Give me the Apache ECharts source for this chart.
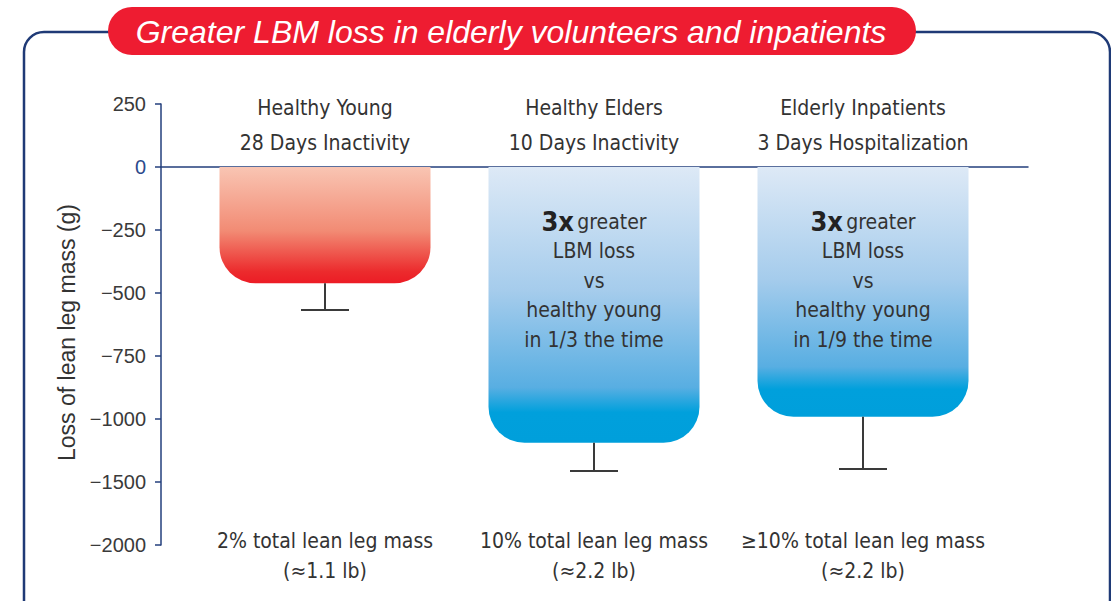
<!DOCTYPE html>
<html>
<head>
<meta charset="utf-8">
<title>Greater LBM loss</title>
<script src="https://cdn.jsdelivr.net/npm/echarts@6/dist/echarts.min.js"></script>
<style>
  html, body { margin: 0; padding: 0; background: #fff; }
  #chart { width: 1111px; height: 601px; }
</style>
</head>
<body>
<div id="chart"></div>
<script>
// data (grams of lean leg mass lost)
var groups = ['Healthy Young', 'Healthy Elders', 'Elderly Inpatients'];
var conditions = ['28 Days Inactivity', '10 Days Inactivity', '3 Days Hospitalization'];
var leanLoss = [-461, -1188, -991];
var errorLow = [-567, -1413, -1397];
var percentNotes = ['2% total lean leg mass', '10% total lean leg mass', '\u226510% total lean leg mass'];
var poundNotes = ['(\u22481.1 lb)', '(\u22482.2 lb)', '(\u22482.2 lb)'];
var timeFractions = [null, '1/3', '1/9'];
var yTicks = [250, 0, -250, -500, -750, -1000, -1500, -2000];
var xPos = [1, 2, 3];

var NAVY = '#233f7c';
var TEXT = '#333333';
var NARROW = "'DejaVu Sans Condensed', 'Liberation Sans Narrow', sans-serif";
var PLAIN = "'Liberation Sans', 'Roboto', sans-serif";

// the y axis is broken: steps of 250 down to -1000, then steps of 500
function toAxis(v) {
    return v >= -1000 ? v / 250 : -4 + (v + 1000) / 500;
}
function fromAxis(m) {
    return m >= -4 ? m * 250 : -1000 + (m + 4) * 500;
}

var redFill = new echarts.graphic.LinearGradient(0, 0, 0, 1, [
    { offset: 0, color: '#f9c5b3' },
    { offset: 0.55, color: '#f28b74' },
    { offset: 0.9, color: '#ec2b2d' },
    { offset: 1, color: '#ec1c25' }
]);
function blueFill() {
    return new echarts.graphic.LinearGradient(0, 0, 0, 1, [
        { offset: 0, color: '#dde9f6' },
        { offset: 0.45, color: '#a5ccec' },
        { offset: 0.8, color: '#58aee2' },
        { offset: 0.89, color: '#00a0dc' },
        { offset: 1, color: '#009fdb' }
    ]);
}

var barData = [];
var errData = [];
for (var i = 0; i < xPos.length; i++) {
    barData.push({
        value: [xPos[i], toAxis(leanLoss[i])],
        itemStyle: { color: i === 0 ? redFill : blueFill(), borderRadius: [0, 0, 36, 36] }
    });
    errData.push([xPos[i], toAxis(leanLoss[i]), toAxis(errorLow[i])]);
}

function renderError(params, api) {
    var top = api.coord([api.value(0), api.value(1)]);
    var bot = api.coord([api.value(0), api.value(2)]);
    var st = { stroke: '#3a3a3a', lineWidth: 2 };
    return {
        type: 'group',
        children: [
            { type: 'line', shape: { x1: top[0], y1: top[1], x2: bot[0], y2: bot[1] }, style: st },
            { type: 'line', shape: { x1: bot[0] - 24, y1: bot[1], x2: bot[0] + 24, y2: bot[1] }, style: st }
        ]
    };
}

// texts above, inside and below each bar
function renderNotes(params, api) {
    var idx = params.dataIndex;
    var x = api.value(0);
    var head = api.coord([x, toAxis(250)]);
    var zero = api.coord([x, 0]);
    var foot = api.coord([x, toAxis(-2000)]);
    var kids = [
        {
            type: 'text', x: head[0], y: head[1] - 14,
            style: {
                text: groups[idx] + '\n' + conditions[idx], fill: TEXT,
                fontFamily: NARROW, fontSize: 21, lineHeight: 35,
                align: 'center', verticalAlign: 'top'
            }
        },
        {
            type: 'text', x: foot[0], y: foot[1] - 19,
            style: {
                text: percentNotes[idx] + '\n' + poundNotes[idx], fill: TEXT,
                fontFamily: NARROW, fontSize: 21, lineHeight: 30,
                align: 'center', verticalAlign: 'top'
            }
        }
    ];
    if (timeFractions[idx]) {
        kids.push({
            type: 'text', x: zero[0], y: zero[1] + 40,
            style: {
                text: '{b|3x} {n|greater}\n{n|LBM loss}\n{n|vs}\n{n|healthy young}\n{n|in ' + timeFractions[idx] + ' the time}',
                align: 'center', verticalAlign: 'top',
                rich: {
                    b: { fontFamily: NARROW, fontSize: 27, fontWeight: 'bold', fill: '#222', lineHeight: 29.5 },
                    n: { fontFamily: NARROW, fontSize: 21, fill: TEXT, lineHeight: 29.5 }
                }
            }
        });
    }
    return { type: 'group', children: kids };
}

var chart = echarts.init(document.getElementById('chart'), null, { renderer: 'svg' });

var option = {
    animation: false,
    backgroundColor: '#ffffff',
    grid: { left: 161, right: 83, top: 104, bottom: 56, containLabel: false },
    xAxis: {
        type: 'value',
        min: 1 - 164 / 269,
        max: 1 - 164 / 269 + 867 / 269,
        axisLine: { show: true, onZero: true, lineStyle: { color: NAVY, width: 1.5 } },
        axisTick: { show: false },
        axisLabel: { show: false },
        splitLine: { show: false }
    },
    yAxis: {
        type: 'value',
        min: -6,
        max: 1,
        interval: 1,
        name: 'Loss of lean leg mass (g)',
        nameLocation: 'middle',
        nameGap: 80,
        nameTextStyle: { fontFamily: PLAIN, fontSize: 23, color: TEXT, padding: [0, 16, 0, 0] },
        axisLine: { show: true, onZero: false, lineStyle: { color: NAVY, width: 1.5 } },
        axisTick: { show: true, length: 6, lineStyle: { color: NAVY, width: 1.5 } },
        splitLine: { show: false },
        axisLabel: {
            margin: 15,
            formatter: function (m) {
                var v = Math.round(fromAxis(m));
                if (yTicks.indexOf(v) < 0) return '';
                if (v === 0) return '{z|0}';
                return '{n|' + String(v).replace('-', '\u2212') + '}';
            },
            rich: {
                z: { fontFamily: PLAIN, fontSize: 20, color: '#2c4a8c' },
                n: { fontFamily: PLAIN, fontSize: 20, color: '#3a3a3a' }
            }
        }
    },
    graphic: [
        {
            type: 'rect', z: 0,
            shape: { x: 24, y: 32, width: 1086, height: 640, r: 20 },
            style: { fill: 'none', stroke: '#1f3a76', lineWidth: 2.5 }
        },
        {
            type: 'rect', z: 10,
            shape: { x: 108, y: 7, width: 808, height: 48, r: 24 },
            style: { fill: '#ee1c31' }
        },
        {
            type: 'text', z: 11, x: 511, y: 32,
            style: {
                text: 'Greater LBM loss in elderly volunteers and inpatients',
                fill: '#ffffff', fontFamily: PLAIN, fontStyle: 'italic', fontSize: 32,
                align: 'center', verticalAlign: 'middle'
            }
        }
    ],
    series: [
        {
            name: 'Lean leg mass loss',
            type: 'bar',
            barWidth: 211,
            data: barData
        },
        {
            name: 'Error',
            type: 'custom',
            renderItem: renderError,
            data: errData,
            z: 3
        },
        {
            name: 'Notes',
            type: 'custom',
            renderItem: renderNotes,
            data: xPos.map(function (x, i) { return [x, i]; }),
            clip: false,
            z: 4
        }
    ]
};

chart.setOption(option);
</script>
</body>
</html>
